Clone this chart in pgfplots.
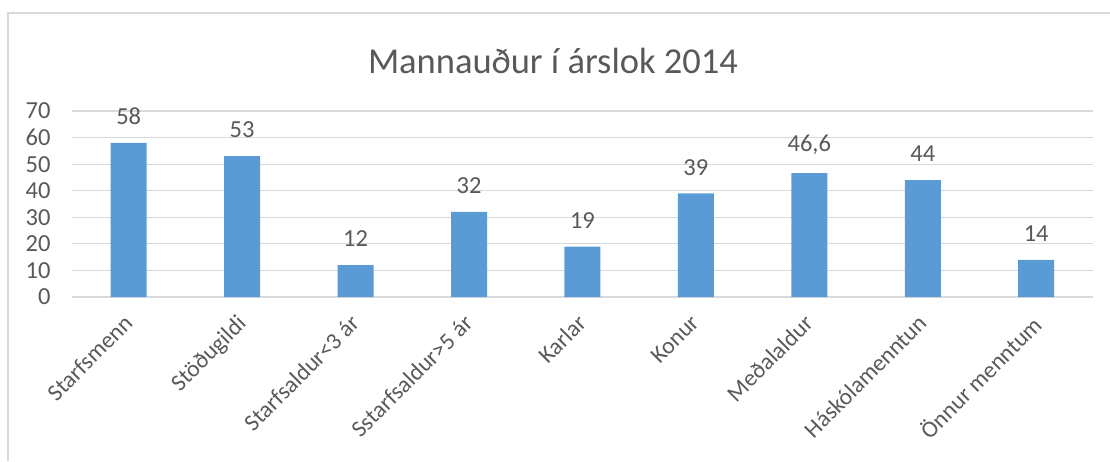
\documentclass[border=0pt]{standalone}
\usepackage{fontspec}
\setmainfont{Carlito}
\usepackage{pgfplots}
\pgfplotsset{compat=1.18}
\definecolor{barblue}{HTML}{5B9BD5}
\definecolor{txtgray}{HTML}{595959}
\definecolor{gridgray}{HTML}{D9D9D9}
\begin{document}
\begin{tikzpicture}
\useasboundingbox (0pt,0pt) rectangle (1110pt,461pt);
% frame (only top and left edges are visible)
\draw[gridgray, line width=1.2pt] (8pt,0pt) -- (8pt,448pt) -- (1110pt,448pt);
\node[anchor=base, text=txtgray, font=\fontsize{36.5}{40}\selectfont] at (553pt,387pt) {Mannauður í árslok 2014};
\begin{axis}[
  at={(72pt,164pt)}, anchor=south west,
  scale only axis, width=1021pt, height=186pt,
  xmin=-0.5, xmax=8.5, ymin=0, ymax=70,
  ytick={0,10,...,70},
  xtick={0,...,8},
  xticklabels={Starfsmenn,Stöðugildi,Starfsaldur<3 ár,Sstarfsaldur>5 ár,Karlar,Konur,Meðalaldur,Háskólamenntun,Önnur menntum},
  % shifts below act in the rotated frame
  x tick label style={rotate=45, anchor=north east, inner sep=0pt, yshift=-7pt, xshift=-16pt,
    font=\fontsize{23.5}{27}\selectfont, text=txtgray},
  y tick label style={font=\fontsize{24.5}{28}\selectfont, text=txtgray, xshift=-18pt},
  /pgf/number format/assume math mode=true,
  major tick length=0pt,
  ymajorgrids, grid style={gridgray, line width=1.2pt},
  axis line style={draw=none},
  axis x line*=bottom, axis y line*=left,
  ybar, bar width=36pt,
  point meta=explicit symbolic,
  nodes near coords,
  nodes near coords style={anchor=south, inner sep=0pt, yshift=18pt,
    font=\fontsize{24.5}{28}\selectfont, text=txtgray},
]
\draw[gridgray, line width=1.2pt] (axis cs:-0.5,0) -- (axis cs:8.5,0);
\addplot[fill=barblue, draw=none] table[meta=lab] {
x y lab
0 58 58
1 53 53
2 12 12
3 32 32
4 19 19
5 39 39
6 46.6 46,6
7 44 44
8 14 14
};
\end{axis}
\end{tikzpicture}
\end{document}
